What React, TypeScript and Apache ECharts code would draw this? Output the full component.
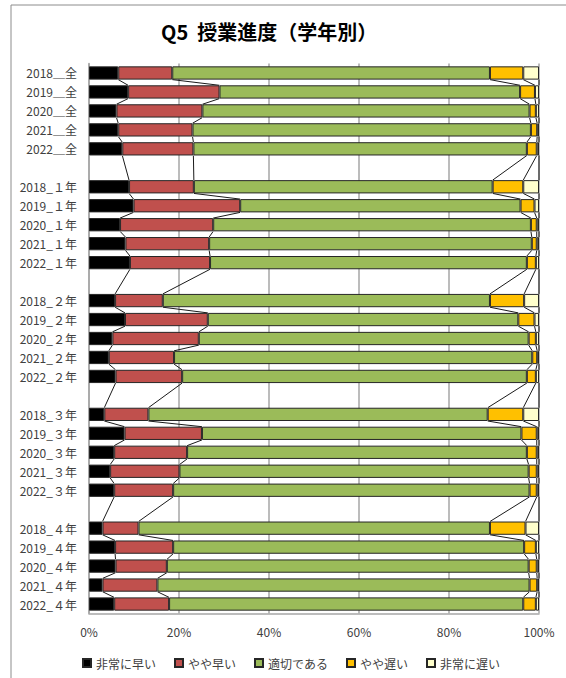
import React, { useEffect, useRef } from "react";
import * as echarts from "echarts";

const categories = [
  "2018＿全", "2019＿全", "2020＿全", "2021＿全", "2022＿全", "",
  "2018_１年", "2019_１年", "2020_１年", "2021_１年", "2022_１年", "",
  "2018_２年", "2019_２年", "2020_２年", "2021_２年", "2022_２年", "",
  "2018_３年", "2019_３年", "2020_３年", "2021_３年", "2022_３年", "",
  "2018_４年", "2019_４年", "2020_４年", "2021_４年", "2022_４年",
];

const seriesNames = ["非常に早い", "やや早い", "適切である", "やや遅い", "非常に遅い"];
const seriesColors = ["#000000", "#C0504D", "#9BBB59", "#FFC000", "#FFFFCC"];

const veryEarly = [6.5, 8.7, 6.1, 6.5, 7.4, null, 8.9, 9.9, 6.9, 8.1, 9.1, null, 5.8, 8.0, 5.2, 4.4, 5.9, null, 3.4, 7.9, 5.6, 4.7, 5.6, null, 3.0, 5.8, 5.9, 3.0, 5.6];
const slightlyEarly = [12.0, 20.3, 19.1, 16.5, 15.8, null, 14.4, 23.7, 20.7, 18.6, 17.8, null, 10.6, 18.4, 19.2, 14.5, 14.8, null, 9.8, 17.2, 16.2, 15.4, 13.1, null, 8.0, 12.9, 11.4, 12.2, 12.2];
const appropriate = [70.6, 66.8, 72.7, 75.2, 74.1, null, 66.4, 62.3, 70.6, 71.7, 70.4, null, 72.7, 69.0, 73.3, 79.6, 76.6, null, 75.4, 71.0, 75.5, 77.6, 79.2, null, 78.1, 78.0, 80.4, 82.7, 78.7];
const slightlyLate = [7.4, 3.3, 1.4, 1.4, 2.2, null, 6.8, 3.1, 1.3, 1.1, 2.0, null, 7.6, 3.6, 1.6, 1.1, 2.0, null, 7.9, 3.4, 2.2, 1.8, 1.6, null, 7.9, 2.6, 1.8, 1.7, 2.8];
const veryLate = [3.5, 0.9, 0.7, 0.4, 0.5, null, 3.5, 1.0, 0.5, 0.5, 0.7, null, 3.3, 1.0, 0.7, 0.4, 0.7, null, 3.5, 0.5, 0.5, 0.5, 0.5, null, 3.0, 0.7, 0.5, 0.4, 0.7];

const xTicks = [0, 20, 40, 60, 80, 100];

export default function App() {
  const ref = useRef<HTMLDivElement>(null);

  useEffect(() => {
    if (!ref.current) return;
    const chart = echarts.init(ref.current, null, { renderer: "svg" });
    const allSeries = [veryEarly, slightlyEarly, appropriate, slightlyLate, veryLate];

    const cum: (number[] | null)[] = categories.map((_, i) => {
      if (veryEarly[i] == null) return null;
      let s = 0;
      return allSeries.map((arr) => {
        s += arr[i] as number;
        return s;
      });
    });
    const pairs: number[][] = [];
    let prev = -1;
    for (let i = 0; i < categories.length; i++) {
      if (cum[i]) {
        if (prev >= 0) pairs.push([prev, i, 0]);
        prev = i;
      }
    }

    const font = "'Noto Sans CJK JP', 'Noto Sans', sans-serif";

    chart.setOption({
      animation: false,
      backgroundColor: "#ffffff",
      title: {
        text: "Q5  授業進度（学年別）",
        left: 156,
        top: 16,
        textStyle: { fontFamily: font, fontSize: 20, fontWeight: "bold", color: "#000" },
      },
      legend: {
        data: seriesNames,
        left: 77,
        top: 652,
        itemWidth: 8,
        itemHeight: 8,
        itemGap: 18,
        icon: "rect",
        textStyle: { fontFamily: font, fontSize: 12, color: "#404040" },
      },
      graphic: [
        {
          type: "rect",
          shape: { x: 11, y: 5, width: 620, height: 720 },
          style: { fill: "none", stroke: "#8c8c8c", lineWidth: 1 },
          silent: true,
          z: 0,
        },
      ],
      grid: { left: 89, right: 27, top: 63.5, bottom: 64.5, containLabel: false },
      xAxis: {
        type: "value",
        min: 0,
        max: 100,
        interval: 20,
        axisLabel: {
          formatter: (v: number) => (xTicks.includes(v) ? v + "%" : ""),
          fontFamily: font,
          fontSize: 12,
          color: "#404040",
          margin: 12,
        },
        axisLine: { show: true, lineStyle: { color: "#a6a6a6", width: 1.5 } },
        axisTick: { show: false },
        splitLine: { show: true, lineStyle: { color: "#a6a6a6", width: 1.5 } },
      },
      yAxis: {
        type: "category",
        data: categories,
        inverse: true,
        axisLabel: { fontFamily: font, fontSize: 12, color: "#404040", margin: 12, interval: 0 },
        axisLine: { show: true, lineStyle: { color: "#a6a6a6", width: 1.5 } },
        axisTick: { show: false },
      },
      series: [
        ...seriesNames.map((name, k) => ({
          name,
          type: "bar",
          stack: "total",
          barCategoryGap: "30%",
          data: allSeries[k],
          itemStyle: { color: seriesColors[k], borderColor: "#262626", borderWidth: 1 },
          z: 3,
        })),
        {
          type: "custom",
          name: "seriesLines",
          coordinateSystem: "cartesian2d",
          encode: { x: 2, y: 0 },
          data: pairs,
          silent: true,
          z: 2,
          renderItem: (params: any, api: any) => {
            const i = api.value(0);
            const j = api.value(1);
            const a = cum[i] as number[];
            const b = cum[j] as number[];
            const band = api.size([0, 1])[1];
            const half = band * 0.35;
            const children = a.map((v, k) => {
              const p1 = api.coord([v, i]);
              const p2 = api.coord([b[k], j]);
              return {
                type: "line",
                shape: { x1: p1[0], y1: p1[1] + half, x2: p2[0], y2: p2[1] - half },
                style: { stroke: "#1a1a1a", lineWidth: 1 },
              };
            });
            return { type: "group", children };
          },
        },
      ],
    });

    return () => chart.dispose();
  }, []);

  return (
    <div
      ref={ref}
      style={{ position: "fixed", left: 0, top: 0, width: 566, height: 678 }}
    />
  );
}
